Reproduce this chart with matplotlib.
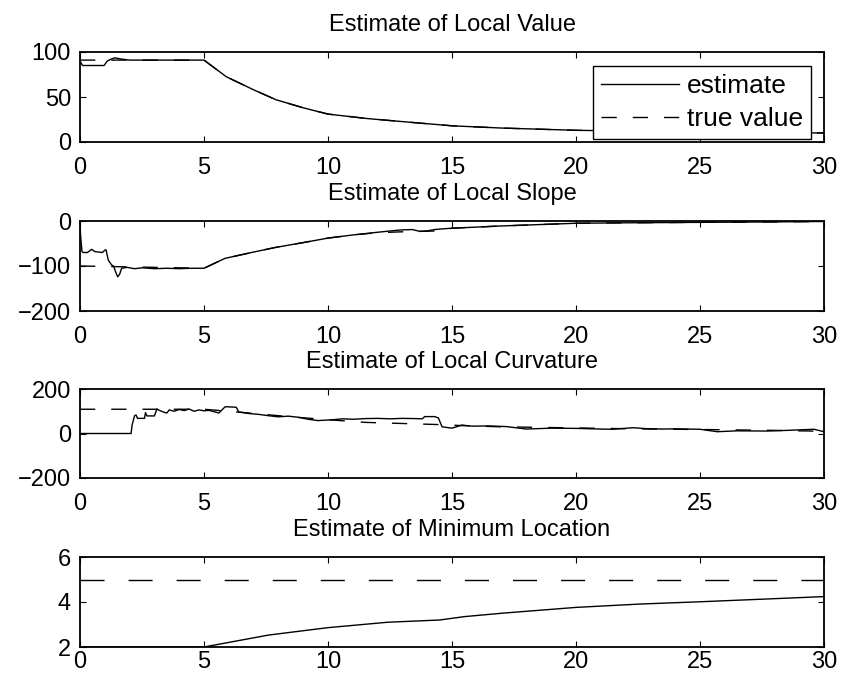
import matplotlib
matplotlib.use("Agg")
import matplotlib.pyplot as plt

plt.rcParams['font.family'] = ['Liberation Sans', 'DejaVu Sans']
plt.rcParams['font.size'] = 17
plt.rcParams['axes.unicode_minus'] = True

# local value
val_t = [0, 0.1, 0.97, 1.1, 1.25, 1.4, 1.7, 2.0, 5.0, 5.9, 7.0, 7.9, 9.0, 10, 11.6, 13.7, 15, 17, 20, 25, 30]
val_est = [90, 85, 85, 90, 92, 93.5, 92, 91, 91, 72.5, 58, 47, 38, 31, 26, 21, 18, 15.5, 13, 11, 10]
val_true_t = [0, 5.0, 5.9, 7.0, 7.9, 9.0, 10, 11.6, 13.7, 15, 17, 20, 25, 30]
val_true = [91, 91, 72.5, 58, 47, 38, 31, 26, 21, 18, 15.5, 13, 11, 10]

# local slope
slp_t = [0, 0.02, 0.08, 0.13, 0.3, 0.47, 0.6, 0.9, 1.0, 1.05, 1.14, 1.28, 1.35, 1.45, 1.52,
         1.6, 1.68, 1.9, 2.2, 2.5, 3.0, 3.5, 4.0, 4.5, 5.0, 5.85, 7.0, 7.86, 9.0, 10, 11, 12,
         12.9, 13.4, 13.7, 14.0, 14.3, 14.5, 15, 17, 20, 22, 25, 28, 30]
slp_est = [0, -30, -68, -70, -70, -63, -68, -70, -65, -64, -87, -98, -100, -115, -124,
           -118, -105, -103, -106, -104, -106, -105, -106, -105, -105, -83, -69, -59, -48, -38, -31, -25,
           -20, -19, -23, -22, -19, -18, -16, -11, -5, -4, -3, -2, -1]
slp_true_t = [0, 5.0, 5.85, 7.0, 7.86, 9.0, 10, 11, 12, 13, 14.5, 15, 17, 20, 22, 25, 28, 30]
slp_true = [-100, -105, -83, -69, -59, -48, -38, -31, -26, -24, -22, -16, -11, -5, -4, -3, -2, -1]

# local curvature
cur_t = [0, 2.06, 2.1, 2.2, 2.26, 2.32, 2.6, 2.64, 2.7, 3.0, 3.1, 3.2, 3.35, 3.5, 3.6, 3.8,
         4.0, 4.2, 4.4, 4.6, 4.8, 5.0, 5.2, 5.4, 5.6, 5.85, 5.95, 6.3, 6.4, 6.8, 7.2, 7.6, 8.0,
         8.4, 8.8, 9.2, 9.6, 9.9, 10.2, 10.6, 11, 11.5, 12, 12.5, 13, 13.5, 13.8, 13.9, 14.3,
         14.45, 14.6, 15.0, 15.4, 15.8, 16.5, 17.2, 18, 19, 20, 21, 21.5, 22.3, 22.8, 23.5, 24,
         25, 25.7, 26.5, 27.7, 28.5, 29.6, 30]
cur_est = [0, 0, 38, 80, 83, 68, 68, 94, 79, 79, 110, 104, 97, 92, 106, 100,
           108, 103, 110, 100, 106, 102, 104, 98, 92, 120, 120, 118, 97, 90, 86, 80, 75,
           78, 73, 64, 58, 60, 62, 66, 64, 67, 68, 66, 68, 67, 66, 76, 76,
           70, 30, 24, 38, 33, 34, 31, 20, 24, 23, 20, 19, 26, 22, 20, 21,
           19, 8, 12, 11, 14, 19, 8]
cur_true_t = [0, 5.0, 6.5, 7.5, 8.5, 10, 11.5, 13, 14.5, 15.5, 17, 20, 23, 25, 28, 30]
cur_true = [109, 109, 95, 85, 75, 62, 50, 45, 40, 35, 30, 25, 20, 18, 14, 10]

# minimum location
loc_t = [0, 5, 7.6, 10, 12.4, 14.5, 15.5, 17, 20, 22.6, 25, 30]
loc_est = [2, 2, 2.53, 2.86, 3.1, 3.2, 3.35, 3.5, 3.76, 3.91, 4.01, 4.24]
loc_true_t = [0, 30]
loc_true = [5, 5]

titles = ["Estimate of Local Value", "Estimate of Local Slope",
          "Estimate of Local Curvature", "Estimate of Minimum Location"]
yticks = [[0, 50, 100], [-200, -100, 0], [-200, 0, 200], [2, 4, 6]]
ylims = [(0, 100), (-200, 0), (-200, 200), (2, 6)]
series = [(val_t, val_est, val_true_t, val_true),
          (slp_t, slp_est, slp_true_t, slp_true),
          (cur_t, cur_est, cur_true_t, cur_true),
          (loc_t, loc_est, loc_true_t, loc_true)]

W, H = 843, 686
fig = plt.figure(figsize=(W / 100, H / 100), dpi=100)

# axes boxes in pixels: (top, bottom)
boxes = [(52, 142), (221, 311), (389, 478), (557, 647)]
left, right = 80, 824

for i, (top, bot) in enumerate(boxes):
    ax = fig.add_axes([left / W, 1 - bot / H, (right - left) / W, (bot - top) / H])
    t, est, tt, tv = series[i]
    dash = (17.3, 17.3) if i == 3 else (11, 11.5)
    ax.plot(t, est, color='black', lw=1.0, label='estimate')
    ax.plot(tt, tv, color='black', lw=1.0, dashes=dash, label='true value')
    ax.set_xlim(0, 30)
    ax.set_ylim(*ylims[i])
    ax.set_xticks([0, 5, 10, 15, 20, 25, 30])
    ax.set_yticks(yticks[i])
    xpad = 3 if i == 3 else 11
    ax.tick_params(axis='x', direction='in', top=True, length=4.3, width=0.8, pad=xpad)
    ax.tick_params(axis='y', direction='in', right=True, length=4.3, width=0.8, pad=6.5)
    for s in ax.spines.values():
        s.set_linewidth(1.3)
    ax.set_title(titles[i], pad=15, fontsize=17)
    if i == 0:
        leg = ax.legend(loc='lower right', bbox_to_anchor=(0.9825, 0.033),
                        borderaxespad=0, fancybox=False, framealpha=1,
                        edgecolor='black', fontsize=19, handlelength=2.95,
                        handletextpad=0.3, labelspacing=0.35, borderpad=0.3)
        leg.get_frame().set_linewidth(1.0)

fig.savefig("out.png", dpi=100)
